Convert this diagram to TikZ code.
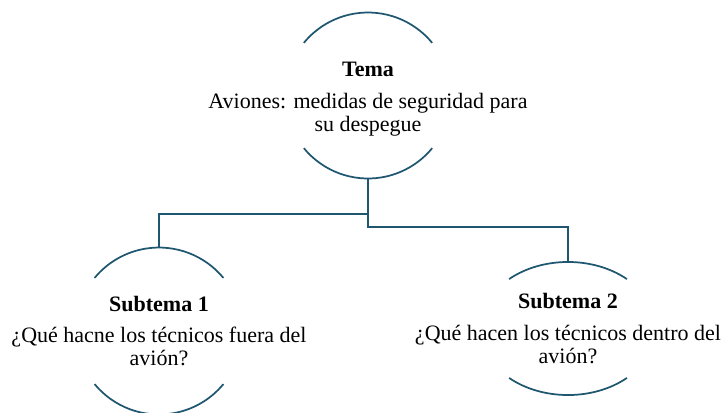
\documentclass[tikz,border=0pt]{standalone}
\usepackage{fontspec}
\setmainfont{Liberation Serif}
\definecolor{linec}{RGB}{31,86,112}
\tikzset{
  shapeline/.style={draw=linec, line width=1.3pt},
  conn/.style={draw=linec, line width=1.3pt},
  ttl/.style={font=\fontsize{16.5pt}{19pt}\selectfont\bfseries, anchor=base, inner sep=0pt},
  txt/.style={font=\fontsize{16.5pt}{19pt}\selectfont, anchor=base, inner sep=0pt}
}
\begin{document}
\begin{tikzpicture}[x=0.75pt,y=-0.75pt]
\useasboundingbox (0,0) rectangle (723,412);
% named points
\coordinate (temaC) at (368,95.5);
\coordinate (temaS) at (368,178);
\coordinate (sAC) at (159,331);
\coordinate (sAN) at (159,248);
\coordinate (sBC) at (568,328.5);
\coordinate (sBN) at (568,262);
% Tema arcs (r = 83px = 62.25pt)
\draw[shapeline] ([shift={(39.4:62.25pt)}]temaC) arc[start angle=39.4, end angle=140.6, radius=62.25pt];
\draw[shapeline] ([shift={(-140.6:62.25pt)}]temaC) arc[start angle=-140.6, end angle=-39.4, radius=62.25pt];
% Subtema 1 arcs (r = 83.5px = 62.6pt)
\draw[shapeline] ([shift={(39.5:62.6pt)}]sAC) arc[start angle=39.5, end angle=140.5, radius=62.6pt];
\draw[shapeline] ([shift={(-140.5:62.6pt)}]sAC) arc[start angle=-140.5, end angle=-39.5, radius=62.6pt];
% Subtema 2 arcs (ellipse 88px x 66.5px)
\draw[shapeline] ([shift={(44.16pt,37.08pt)}]sBC) arc[start angle=48, end angle=132, x radius=66pt, y radius=49.9pt];
\draw[shapeline] ([shift={(-44.16pt,-37.08pt)}]sBC) arc[start angle=-132, end angle=-48, x radius=66pt, y radius=49.9pt];
% connectors
\draw[conn] (temaS) -- ++(0,36) -| (sAN);
\draw[conn] (temaS) -- ++(0,49) -| (sBN);
% texts
\node[ttl] (t0) at (368,76) {Tema};
\node[txt] (t1) at (368,108) {Aviones: medidas de seguridad para};
\node[txt] (t2) at (368,131) {su despegue};
\node[ttl] (a0) at (159,311) {Subtema 1};
\node[txt] (a1) at (159,342.5) {¿Qué hacne los técnicos fuera del};
\node[txt] (a2) at (159,365.5) {avión?};
\node[ttl] (b0) at (568,308.5) {Subtema 2};
\node[txt] (b1) at (568,340) {¿Qué hacen los técnicos dentro del};
\node[txt] (b2) at (568,363) {avión?};
\end{tikzpicture}
\end{document}
